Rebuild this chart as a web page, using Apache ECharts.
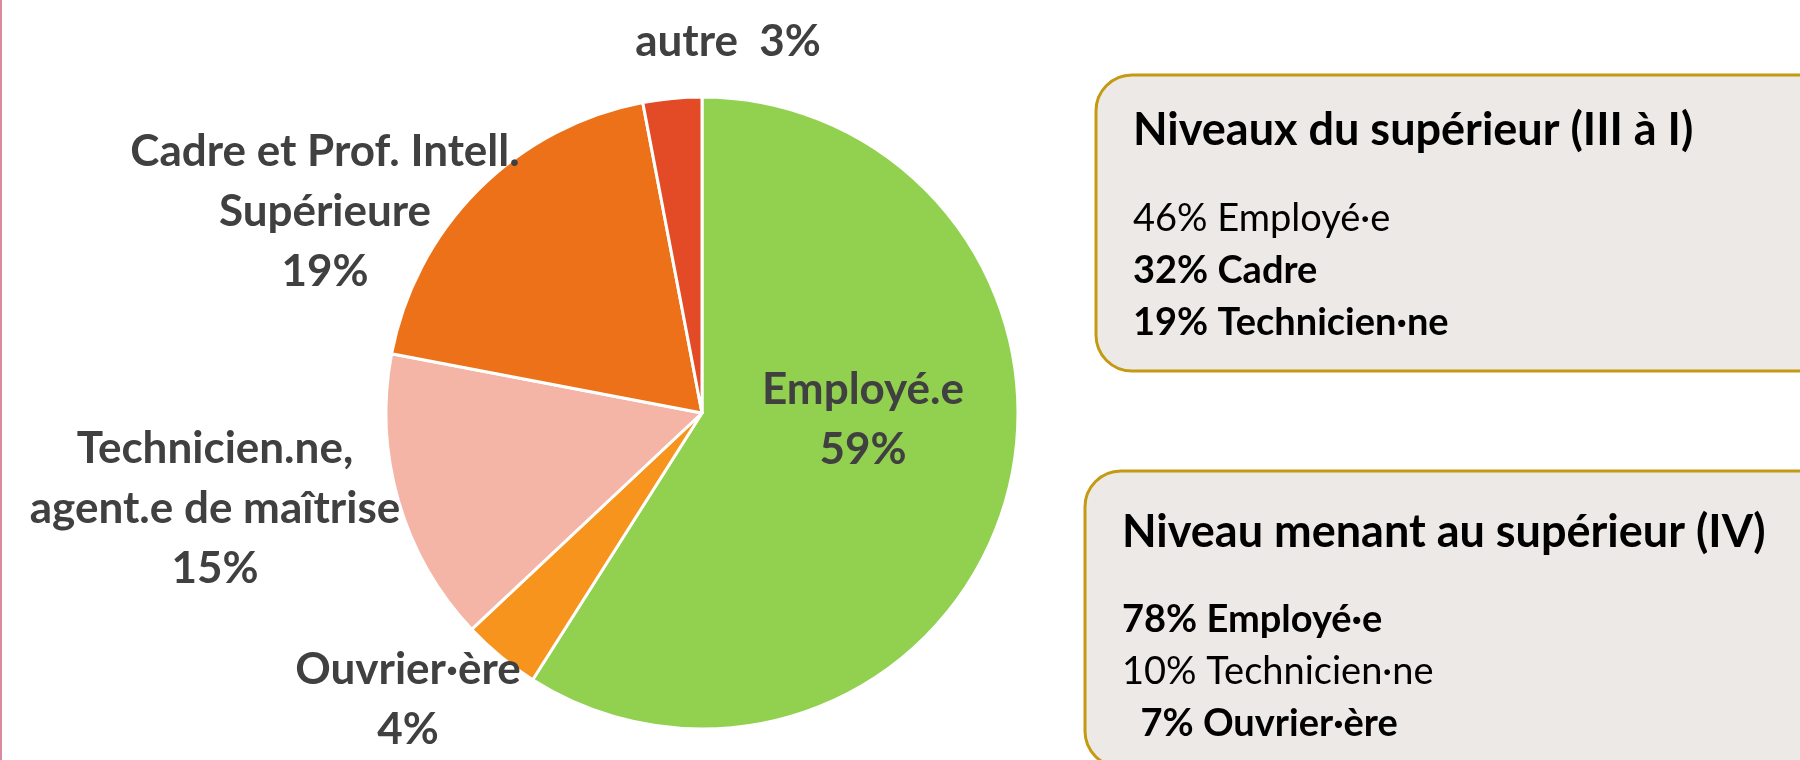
<!DOCTYPE html>
<html>
<head>
<meta charset="utf-8">
<script src="https://cdn.jsdelivr.net/npm/echarts@6/dist/echarts.min.js"></script>
<style>
  html, body { margin: 0; padding: 0; background: #fff; }
  #chart { width: 1800px; height: 760px; }
</style>
</head>
<body>
<div id="chart"></div>
<script>
// pie slices, clockwise from 12 o'clock
const categories = ['Employé.e', 'Ouvrier·ère', 'Technicien.ne,\nagent.e de maîtrise', 'Cadre et Prof. Intell.\nSupérieure', 'autre']
const shares = [59, 4, 15, 19, 3]
const sliceColors = ['#92D050', '#F7941D', '#F4B5A7', '#EC7118', '#E34A26']

// label anchor points (centre of the text block)
const labelPos = [[863, 420], [408, 700], [215, 509], [325, 212], [728, 42]]

// the two notes on the right
const box1Title = 'Niveaux du supérieur (III à I)'
const box1Lines = [['46% Employé·e', false], ['32% Cadre', true], ['19% Technicien·ne', true]]
const box2Title = 'Niveau menant au supérieur (IV)'
const box2Lines = [['78% Employé·e', true], ['10% Technicien·ne', false], ['  7% Ouvrier·ère', true]]

const FONT = 'Lato'

const chart = echarts.init(document.getElementById('chart'))

const makeBox = (x, y, titleDy, linesDy, title, lines) => {
  const els = [{
    type: 'rect',
    shape: { x: x, y: y, width: 800, height: 296, r: 36 },
    style: { fill: '#EDE9E6', stroke: '#C49A12', lineWidth: 3 }
  }, {
    type: 'text',
    style: { x: x + 37, y: y + titleDy, text: title, fill: '#000', font: 'bold 45px ' + FONT, verticalAlign: 'middle' }
  }]
  lines.forEach((l, i) => {
    els.push({
      type: 'text',
      style: {
        x: x + 37, y: y + linesDy + i * 52, text: l[0], fill: '#000',
        font: (l[1] ? 'bold ' : '') + '38px ' + FONT, verticalAlign: 'middle'
      }
    })
  })
  return els
}

const option = {
  animation: false,
  backgroundColor: '#fff',
  graphic: [
    { type: 'rect', shape: { x: 0, y: 0, width: 2, height: 760 }, style: { fill: '#D98A9E' } },
    ...makeBox(1096, 75, 55, 144, box1Title, box1Lines),
    ...makeBox(1085, 471, 61, 149, box2Title, box2Lines)
  ],
  series: [{
    type: 'pie',
    center: [702, 413],
    radius: 316,
    startAngle: 90,
    clockwise: true,
    data: categories.map((c, i) => ({ name: c, value: shares[i], itemStyle: { color: sliceColors[i] } })),
    itemStyle: { borderColor: '#fff', borderWidth: 3 },
    label: {
      show: true,
      color: '#404040',
      fontFamily: FONT,
      fontWeight: 'bold',
      fontSize: 44,
      lineHeight: 60,
      align: 'center',
      overflow: 'none',
      width: 600,
      formatter: p => p.dataIndex === 4 ? p.name + '  ' + p.value + '%' : p.name + '\n' + p.value + '%'
    },
    labelLine: { show: false },
    labelLayout: p => ({ x: labelPos[p.dataIndex][0], y: labelPos[p.dataIndex][1], align: 'center', verticalAlign: 'middle' })
  }]
}

chart.setOption(option)
</script>
</body>
</html>
